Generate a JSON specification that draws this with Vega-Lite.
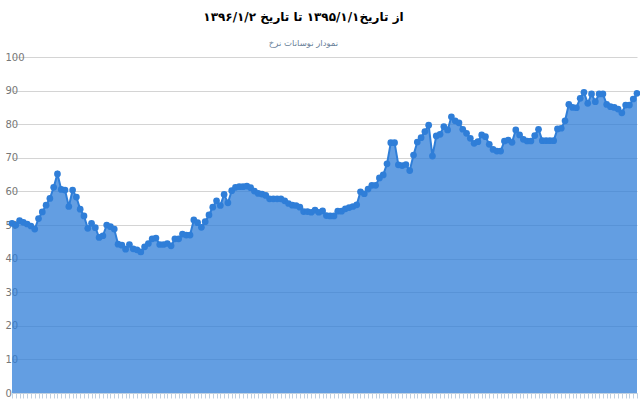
{
"$schema": "https://vega.github.io/schema/vega-lite/v6.json",
"width": 625, "height": 336,
"autosize": "none",
"padding": {"left": 12, "top": 57, "right": 3, "bottom": 9},
"background": "white",
"title": {"text": "از تاریخ۱۳۹۵/۱/۱ تا تاریخ ۱۳۹۶/۱/۲", "subtitle": "نمودار نوسانات نرخ", "font": "DejaVu Sans", "fontSize": 12, "fontWeight": "bold", "color": "#000000", "subtitleFont": "DejaVu Sans", "subtitleFontSize": 8.5, "subtitleColor": "#6a7f99", "anchor": "middle", "offset": 4, "subtitlePadding": 15, "dx": -21},
"data": {"values": [
{"i":1,"v":50.5},{"i":2,"v":50},{"i":3,"v":51.3},{"i":4,"v":50.8},{"i":5,"v":50.3},{"i":6,"v":49.7},{"i":7,"v":48.8},{"i":8,"v":51.9},{"i":9,"v":53.9},{"i":10,"v":55.9},
{"i":11,"v":57.9},{"i":12,"v":61.2},{"i":13,"v":65.2},{"i":14,"v":60.6},{"i":15,"v":60.4},{"i":16,"v":55.5},{"i":17,"v":60.4},{"i":18,"v":58.3},{"i":19,"v":54.7},{"i":20,"v":52.7},
{"i":21,"v":49},{"i":22,"v":50.5},{"i":23,"v":49.2},{"i":24,"v":46.3},{"i":25,"v":46.8},{"i":26,"v":50},{"i":27,"v":49.5},{"i":28,"v":48.8},{"i":29,"v":44.3},{"i":30,"v":44},
{"i":31,"v":42.8},{"i":32,"v":44.2},{"i":33,"v":42.9},{"i":34,"v":42.6},{"i":35,"v":42},{"i":36,"v":43.5},{"i":37,"v":44.5},{"i":38,"v":45.9},{"i":39,"v":46.1},{"i":40,"v":44.2},
{"i":41,"v":44.2},{"i":42,"v":44.5},{"i":43,"v":43.8},{"i":44,"v":45.9},{"i":45,"v":45.9},{"i":46,"v":47.3},{"i":47,"v":47},{"i":48,"v":47},{"i":49,"v":51.5},{"i":50,"v":50.7},
{"i":51,"v":49.3},{"i":52,"v":51},{"i":53,"v":53},{"i":54,"v":55.3},{"i":55,"v":57.2},{"i":56,"v":55.8},{"i":57,"v":59.1},{"i":58,"v":56.6},{"i":59,"v":60.2},{"i":60,"v":61.2},
{"i":61,"v":61.4},{"i":62,"v":61.4},{"i":63,"v":61.6},{"i":64,"v":61.1},{"i":65,"v":60.1},{"i":66,"v":59.4},{"i":67,"v":59.2},{"i":68,"v":58.8},{"i":69,"v":57.8},{"i":70,"v":57.8},
{"i":71,"v":57.8},{"i":72,"v":57.8},{"i":73,"v":57.2},{"i":74,"v":56.4},{"i":75,"v":55.9},{"i":76,"v":55.8},{"i":77,"v":55.3},{"i":78,"v":54},{"i":79,"v":54},{"i":80,"v":53.8},
{"i":81,"v":54.4},{"i":82,"v":53.8},{"i":83,"v":54.2},{"i":84,"v":52.8},{"i":85,"v":52.7},{"i":86,"v":52.7},{"i":87,"v":54.1},{"i":88,"v":54.1},{"i":89,"v":54.8},{"i":90,"v":55.2},
{"i":91,"v":55.5},{"i":92,"v":56},{"i":93,"v":59.9},{"i":94,"v":59.3},{"i":95,"v":60.7},{"i":96,"v":61.8},{"i":97,"v":61.8},{"i":98,"v":64},{"i":99,"v":64.9},{"i":100,"v":68.2},
{"i":101,"v":74.5},{"i":102,"v":74.5},{"i":103,"v":67.9},{"i":104,"v":67.7},{"i":105,"v":68},{"i":106,"v":66.2},{"i":107,"v":70.8},{"i":108,"v":74.7},{"i":109,"v":76},{"i":110,"v":77.8},
{"i":111,"v":79.7},{"i":112,"v":70.5},{"i":113,"v":76.5},{"i":114,"v":77},{"i":115,"v":79.3},{"i":116,"v":78.3},{"i":117,"v":82.2},{"i":118,"v":81},{"i":119,"v":80.4},{"i":120,"v":78.5},
{"i":121,"v":77.3},{"i":122,"v":75.8},{"i":123,"v":74.3},{"i":124,"v":74.8},{"i":125,"v":76.8},{"i":126,"v":76.3},{"i":127,"v":74},{"i":128,"v":72.5},{"i":129,"v":72},{"i":130,"v":72},
{"i":131,"v":75},{"i":132,"v":75.3},{"i":133,"v":74.6},{"i":134,"v":78.3},{"i":135,"v":76.8},{"i":136,"v":75.5},{"i":137,"v":75},{"i":138,"v":75},{"i":139,"v":76.6},{"i":140,"v":78.5},
{"i":141,"v":75.1},{"i":142,"v":75.1},{"i":143,"v":75.1},{"i":144,"v":75.1},{"i":145,"v":78.6},{"i":146,"v":78.8},{"i":147,"v":81},{"i":148,"v":85.9},{"i":149,"v":85},{"i":150,"v":84.9},
{"i":151,"v":87.7},{"i":152,"v":89.5},{"i":153,"v":86.2},{"i":154,"v":89},{"i":155,"v":86.7},{"i":156,"v":89},{"i":157,"v":89},{"i":158,"v":85.9},{"i":159,"v":85.2},{"i":160,"v":85},
{"i":161,"v":84.5},{"i":162,"v":83.4},{"i":163,"v":85.7},{"i":164,"v":85.7},{"i":165,"v":87.5},{"i":166,"v":89.2}
]},
"encoding": {
"x": {"field": "i", "type": "quantitative", "scale": {"domain": [1, 166], "nice": false, "zero": false},
 "axis": {"title": null, "labels": false, "grid": false, "domainColor": "#C0D0E0", "tickColor": "#C0D0E0", "tickSize": 5, "tickCount": 200}},
"y": {"field": "v", "type": "quantitative", "scale": {"domain": [0, 100], "nice": false},
 "axis": {"title": null, "domain": false, "ticks": false, "tickSize": 0, "labelAlign": "left", "labelBaseline": "middle", "labelPadding": 7, "labelColor": "#777777", "labelFontSize": 10, "labelFont": "DejaVu Sans", "gridColor": "#d4d4d4", "values": [0,10,20,30,40,50,60,70,80,90,100], "labelOverlap": false}}
},
"layer": [
{"mark": {"type": "area", "color": "#2f7ed8", "opacity": 0.75}},
{"mark": {"type": "line", "color": "#2f7ed8", "strokeWidth": 2}},
{"mark": {"type": "point", "filled": true, "color": "#2f7ed8", "size": 45, "opacity": 1}}
],
"config": {"view": {"stroke": null}}
}
